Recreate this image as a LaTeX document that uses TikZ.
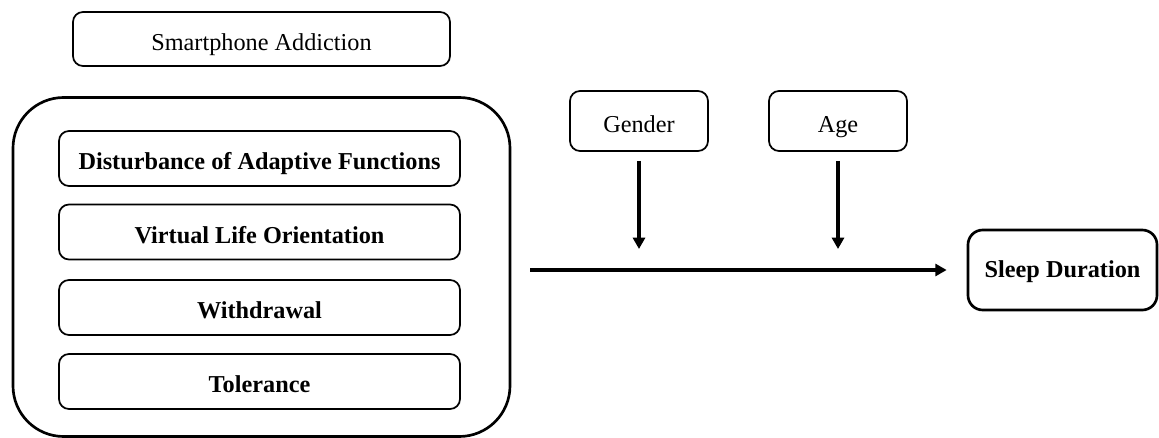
\documentclass[tikz,border=0pt]{standalone}
\usepackage{fontspec}
\setmainfont{Liberation Serif}
\usetikzlibrary{arrows.meta}
\begin{document}
\begin{tikzpicture}[x=0.75pt,y=-0.75pt,
  box/.style={draw, line width=1.3pt, rounded corners=7.5pt, inner sep=0pt, align=center,
    text height=21pt, text depth=4pt,
    font=\fontsize{18.2}{22}\selectfont},
  bbox/.style={box, font=\fontsize{18.2}{22}\selectfont\bfseries},
  arr/.style={line width=2.4pt, -{Triangle[length=8.5pt,width=9pt]}}]
\useasboundingbox (0,0) rectangle (1159,438);
\node[box, minimum width=377*0.75pt, minimum height=54*0.75pt] (sa) at (261.5,39) {Smartphone Addiction};
\node[draw, line width=2pt, rounded corners=38pt, minimum width=497*0.75pt, minimum height=339*0.75pt, inner sep=0pt] (big) at (261.5,267) {};
\node[bbox, minimum width=401*0.75pt, minimum height=55*0.75pt] (daf) at (259.5,158.5) {Disturbance of Adaptive Functions};
\node[bbox, minimum width=401*0.75pt, minimum height=55*0.75pt] (vlo) at (259.5,232) {Virtual Life Orientation};
\node[bbox, minimum width=401*0.75pt, minimum height=55*0.75pt] (wd) at (259.5,307.5) {Withdrawal};
\node[bbox, minimum width=401*0.75pt, minimum height=55*0.75pt] (tol) at (259.5,381.5) {Tolerance};
\node[box, minimum width=138*0.75pt, minimum height=60*0.75pt] (gen) at (639,121) {Gender};
\node[box, minimum width=138*0.75pt, minimum height=60*0.75pt] (age) at (838,121) {Age};
\node[bbox, line width=2pt, rounded corners=11pt, text height=15.4pt, minimum width=189*0.75pt, minimum height=80*0.75pt] (sd) at (1062.5,270) {Sleep Duration};
\coordinate (gend) at (639,249);
\coordinate (aged) at (838,249);
\coordinate (hs) at (530,270);
\draw[arr, shorten <=9*0.75pt] (gen.south) -- (gend);
\draw[arr, shorten <=9*0.75pt] (age.south) -- (aged);
\draw[arr, shorten >=20*0.75pt] (hs) -- (sd.west);
\end{tikzpicture}
\end{document}
